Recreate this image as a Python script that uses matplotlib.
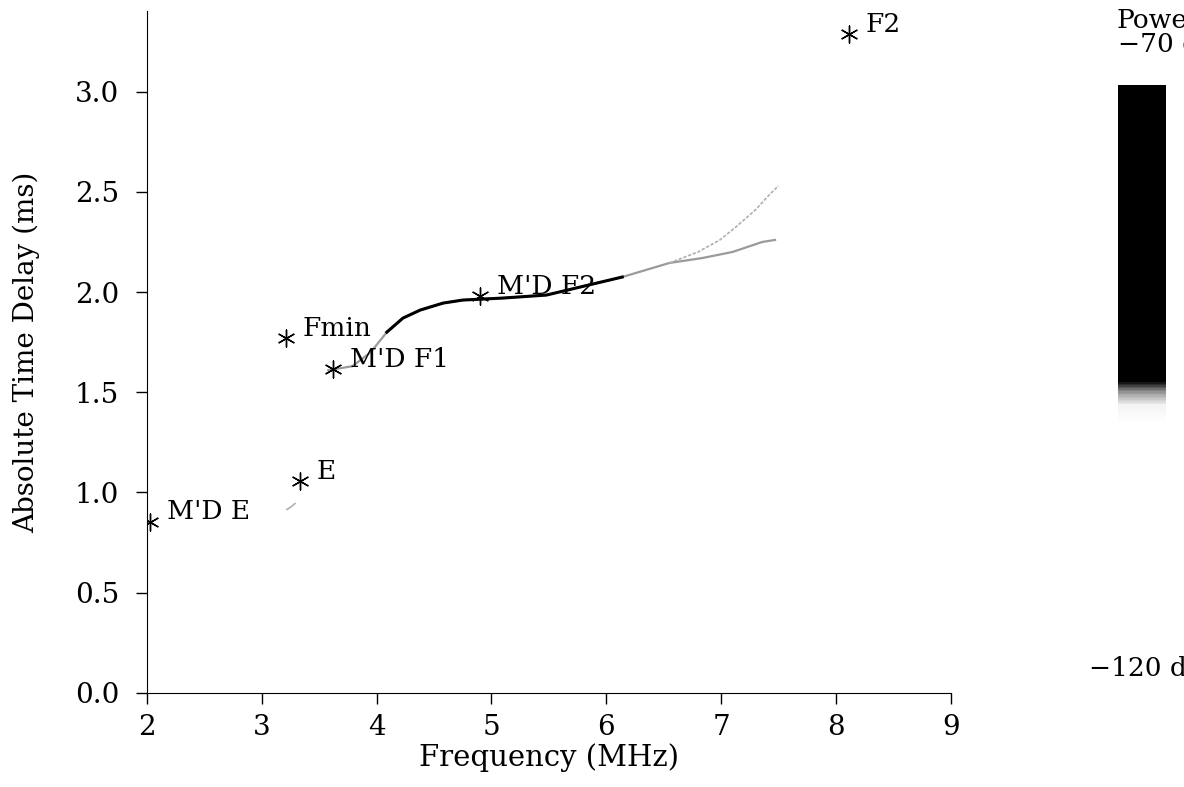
import matplotlib

matplotlib.use("Agg")

import matplotlib.pyplot as plt
import numpy as np
from matplotlib.ticker import FormatStrFormatter

# labelled ionogram points (MHz, ms)
point_names = ["F2", "M'D F2", "Fmin", "M'D F1", "E", "M'D E"]
point_freq = [8.11, 4.90, 3.21, 3.62, 3.33, 2.03]
point_delay = [3.285, 1.98, 1.77, 1.615, 1.055, 0.855]

# main echo trace
trace_freq = [3.58, 3.79, 3.95, 4.09, 4.23, 4.38, 4.58, 4.75, 5.10, 5.48, 5.92, 6.14, 6.55, 6.84, 7.10, 7.36, 7.47]
trace_delay = [1.61, 1.63, 1.70, 1.80, 1.87, 1.91, 1.945, 1.96, 1.97, 1.985, 2.045, 2.075, 2.145, 2.17, 2.20, 2.25, 2.26]
dark_freq = [4.09, 4.23, 4.38, 4.58, 4.75, 5.10, 5.48, 5.92, 6.14]
dark_delay = [1.80, 1.87, 1.91, 1.945, 1.96, 1.97, 1.985, 2.045, 2.075]
upper_freq = [6.55, 6.80, 6.99, 7.13, 7.30, 7.42, 7.50]
upper_delay = [2.145, 2.20, 2.26, 2.325, 2.41, 2.485, 2.53]
e_trace_freq = [3.22, 3.26, 3.29]
e_trace_delay = [0.915, 0.93, 0.945]

# power scale (dB, ascending) and grey level shown on the bar
power_db = [-120, -99, -97.5, -96.3, -95.5, -70]
power_level = [0.0, 0.0, 0.05, 0.45, 1.0, 1.0]

plt.rcParams["font.family"] = "DejaVu Serif"

fig = plt.figure(figsize=(11.84, 7.87), dpi=100)
ax = fig.add_axes([0.124, 0.1195, 0.679, 0.866])

ax.plot(trace_freq, trace_delay, color="#9a9a9a", linewidth=1.6)
ax.plot(upper_freq, upper_delay, color="#b0b0b0", linewidth=1.2, linestyle=(0, (2, 1)))
ax.plot(dark_freq, dark_delay, color="black", linewidth=2.2)
ax.plot(e_trace_freq, e_trace_delay, color="#b0b0b0", linewidth=1.2)

ax.scatter(point_freq, point_delay, marker=(6, 2, 0), s=150, color="black", linewidths=1.0, zorder=3)
for name, f, d in zip(point_names, point_freq, point_delay):
    ax.annotate(name, (f, d), xytext=(17, 10), textcoords="offset pixels",
                ha="left", va="center", fontsize=19)

ax.set_xlim(2, 9)
ax.set_ylim(0, 3.4)
ax.set_xticks(range(2, 10))
ax.set_yticks(np.arange(0, 3.01, 0.5))
ax.yaxis.set_major_formatter(FormatStrFormatter("%.1f"))
ax.tick_params(direction="out", length=8, width=1, labelsize=20)
ax.tick_params(axis="x", pad=7)
ax.tick_params(axis="y", pad=12)
ax.spines["top"].set_visible(False)
ax.spines["right"].set_visible(False)
ax.set_xlabel("Frequency (MHz)", fontsize=21, va="baseline")
ax.set_ylabel("Absolute Time Delay (ms)", fontsize=20, va="center")
ax.xaxis.set_label_coords(0.5, -0.1075)
ax.yaxis.set_label_coords(-0.150, 0.5)

# power bar on the right
cax = fig.add_axes([1118 / 1184, 1 - 668 / 787, 48 / 1184, (668 - 85) / 787])
levels = np.linspace(-120, -70, 401)
shade = np.interp(levels[:-1], power_db, power_level)
cax.pcolormesh([0, 1], levels, shade[:, None], cmap="gray_r", vmin=0, vmax=1, shading="flat")
cax.set_xlim(0, 1)
cax.set_ylim(-120, -70)
cax.set_axis_off()

fig.text(1117 / 1184, 1 - 20 / 787, "Power", fontsize=19, ha="left", va="center")
fig.text(1118 / 1184, 1 - 44 / 787, "\u221270 dB", fontsize=19, ha="left", va="center")
fig.text(1089 / 1184, 1 - 668 / 787, "\u2212120 dB", fontsize=19, ha="left", va="center")

fig.savefig("out.png", dpi=100)
